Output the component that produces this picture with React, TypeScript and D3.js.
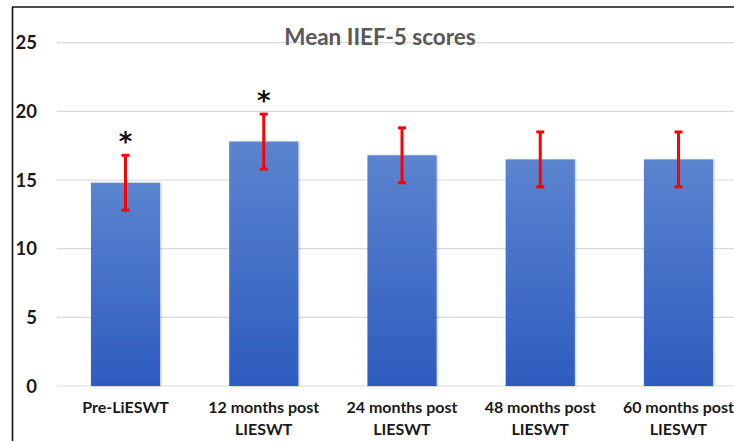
import React from "react";
import * as d3 from "d3";

const categories = [
  ["Pre-LiESWT"],
  ["12 months post", "LIESWT"],
  ["24 months post", "LIESWT"],
  ["48 months post", "LIESWT"],
  ["60 months post", "LIESWT"],
];
const means = [14.8, 17.8, 16.8, 16.5, 16.5];
const sds = [2.0, 2.0, 2.0, 2.0, 2.0];
const significant = [true, true, false, false, false];
const yTicks = [0, 5, 10, 15, 20, 25];
const title = "Mean IIEF-5 scores";

const W = 734;
const H = 441;
const FONT = "Lato, 'Open Sans', sans-serif";

export default function App() {
  const ids = categories.map((_, i) => String(i));
  const x = d3.scaleBand<string>().domain(ids).range([56.4, 747.6]).paddingInner(0.5).paddingOuter(0.25);
  const y = d3.scaleLinear().domain([0, 25]).range([386, 42.7]);
  const bw = x.bandwidth();

  return (
    <svg width={W} height={H} style={{ position: "absolute", left: 0, top: 0, background: "#fff" }}>
      <defs>
        <linearGradient id="barGrad" x1="0" y1="0" x2="0" y2="1">
          <stop offset="0%" stopColor="#5b84cf" />
          <stop offset="100%" stopColor="#2e5cbf" />
        </linearGradient>
        <filter id="shadow" x="-10%" y="-10%" width="120%" height="120%">
          <feDropShadow dx="1" dy="0" stdDeviation="1.2" floodColor="#000" floodOpacity="0.25" />
        </filter>
      </defs>
      <rect x={0} y={0} width={W} height={H} fill="#fff" />
      {/* frame */}
      <line x1={12.5} y1={7} x2={12.5} y2={H} stroke="#111" strokeWidth={1.6} />
      <line x1={12} y1={7} x2={W} y2={7} stroke="#111" strokeWidth={1.6} />
      {/* gridlines */}
      {yTicks.map((t) => (
        <line key={t} x1={57} x2={W} y1={y(t)} y2={y(t)} stroke="#d9d9d9" strokeWidth={1.2} />
      ))}
      {/* y tick labels */}
      {yTicks.map((t) => (
        <text key={"l" + t} x={37} y={y(t)} dy="0.36em" textAnchor="end" fontFamily={FONT} fontWeight="bold" fontSize={18.5} fill="#1a1a1a">
          {t}
        </text>
      ))}
      {/* title */}
      <text x={380} y={45} textAnchor="middle" fontFamily={FONT} fontWeight="bold" fontSize={22.5} fill="#595959">
        {title}
      </text>
      {/* bars */}
      {means.map((m, i) => (
        <rect key={"b" + i} x={x(ids[i])!} y={y(m)} width={bw} height={y(0) - y(m)} fill="url(#barGrad)" filter="url(#shadow)" />
      ))}
      {/* error bars */}
      {means.map((m, i) => {
        const cx = x(ids[i])! + bw / 2;
        const top = y(m + sds[i]);
        const bot = y(m - sds[i]);
        return (
          <g key={"e" + i} stroke="#ff0000" strokeWidth={3}>
            <line x1={cx} x2={cx} y1={top} y2={bot} />
            <line x1={cx - 4} x2={cx + 4} y1={top} y2={top} />
            <line x1={cx - 4} x2={cx + 4} y1={bot} y2={bot} />
          </g>
        );
      })}
      {/* asterisks */}
      {means.map((m, i) =>
        significant[i] ? (
          <text key={"s" + i} x={x(ids[i])! + bw / 2} y={y(m + sds[i]) - 4} textAnchor="middle" fontFamily="'DejaVu Sans', sans-serif" fontWeight="bold" fontSize={26} fill="#111">
            *
          </text>
        ) : null
      )}
      {/* x labels */}
      {categories.map((lines, i) => (
        <text key={"x" + i} x={x(ids[i])! + bw / 2} y={413} textAnchor="middle" fontFamily={FONT} fontWeight="bold" fontSize={16} fill="#1a1a1a">
          {lines.map((ln, j) => (
            <tspan key={j} x={x(ids[i])! + bw / 2} dy={j === 0 ? 0 : 22}>
              {ln}
            </tspan>
          ))}
        </text>
      ))}
    </svg>
  );
}
